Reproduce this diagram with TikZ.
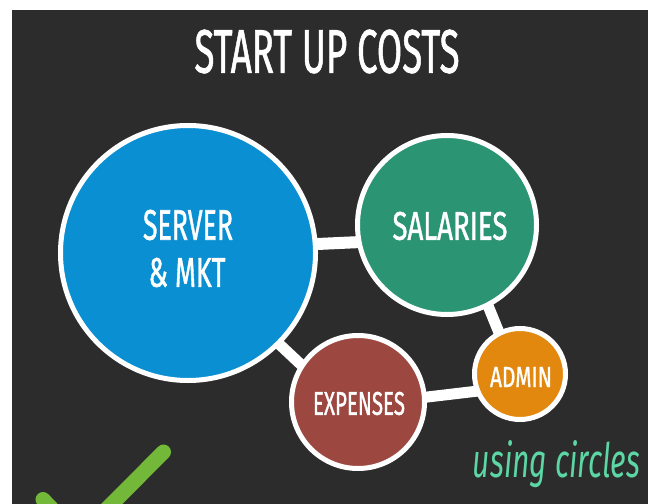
\documentclass[tikz,border=0pt]{standalone}
\usepackage{fontspec}
\setmainfont{Fira Sans}
\newfontfamily\labelfont[FakeBold=1.3]{Fira Sans}
\usepackage{graphicx}
\definecolor{board}{HTML}{2C2C2C}
\definecolor{cblue}{HTML}{0A8FD2}
\definecolor{cgreen}{HTML}{2A9473}
\definecolor{cred}{HTML}{9C4841}
\definecolor{corange}{HTML}{E2880F}
\definecolor{ccheck}{HTML}{74B83A}
\definecolor{cmint}{HTML}{5CD6A4}
\newcommand{\mybox}[3]{\resizebox{#1}{#2}{\labelfont #3}}
\pgfdeclarelayer{back}
\pgfdeclarelayer{bg}
\pgfsetlayers{back,bg,main}
\tikzset{
  bubble/.style={circle, draw=white, line width=5bp, inner sep=0pt, outer sep=0pt},
  link/.style={draw=white, line width=11bp},
  lbl/.style={text=white, inner sep=0pt, outer sep=0pt}
}
\begin{document}
\begin{tikzpicture}[x=1bp,y=-1bp]
\useasboundingbox (0,0) rectangle (648,504);
\begin{pgfonlayer}{back}
\fill[white] (0,0) rectangle (648,504);
\fill[board] (12,10) rectangle (648,504);
\end{pgfonlayer}

\node[lbl] (title) at (327,51.5) {\mybox{265bp}{43bp}{START UP COSTS}};

\node[bubble, fill=cblue, minimum size=255bp] (server) at (188,253) {};
\node[bubble, fill=cgreen, minimum size=179bp] (salaries) at (447,225) {};
\node[bubble, fill=cred, minimum size=133bp] (expenses) at (358,402) {};
\node[bubble, fill=corange, minimum size=91bp] (admin) at (520,374) {};

\node[lbl] (srv1) at (188,225) {\mybox{90bp}{30bp}{SERVER}};
\node[lbl] (srv2) at (187,272.5) {\mybox{77bp}{29bp}{\& MKT}};
\node[lbl] (sal) at (450,226) {\mybox{115bp}{28bp}{SALARIES}};
\node[lbl] (exp) at (359,403.5) {\mybox{92bp}{23bp}{EXPENSES}};
\node[lbl] (adm) at (521,377) {\mybox{62bp}{20bp}{ADMIN}};

\begin{pgfonlayer}{bg}
\draw[link, line width=12bp] (server.4) -- (salaries.191.6);
\draw[link] (server.-45) -- (expenses.147);
\draw[link] (salaries.-63) -- (admin.117);
\draw[link] (expenses.4) -- (admin.202);
\end{pgfonlayer}

\node[text=cmint, inner sep=0pt, anchor=base] (note) at (556.5,477) {\resizebox{167bp}{37bp}{\itshape using circles}};

\begin{scope}
\clip (12,10) rectangle (648,504);
\coordinate (ckA) at (43,499.5);
\coordinate (ckV) at (79,537);
\coordinate (ckB) at (163.5,452);
\draw[ccheck, line width=15bp, line cap=round, line join=round] (ckA) -- (ckV) -- (ckB);
\end{scope}
\end{tikzpicture}
\end{document}
